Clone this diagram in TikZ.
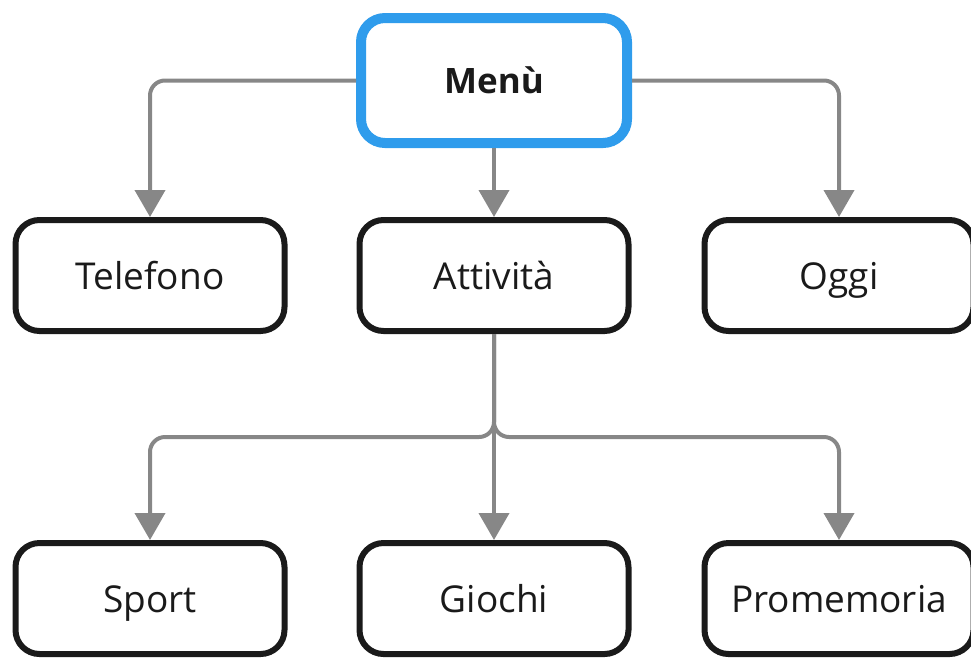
\documentclass[tikz,border=0pt]{standalone}
\usepackage{fontspec}
\setmainfont{Open Sans}
\usetikzlibrary{arrows.meta}
\definecolor{menublue}{HTML}{2F9CEC}
\definecolor{linegray}{HTML}{878787}
\definecolor{ink}{HTML}{1A1A1A}

\begin{document}
\begin{tikzpicture}[x=1pt, y=-1pt, >={Triangle[width=30pt, length=27pt]},
    box/.style={draw=ink, line width=6pt, rounded corners=24pt, fill=white,
        minimum width=269pt, minimum height=111pt, text=ink,
        text height=27pt, text depth=0pt,
        font=\fontsize{37}{44}\selectfont},
    link/.style={->, draw=linegray, line width=4pt, rounded corners=15pt}]
    \useasboundingbox (0,0) rectangle (971,657);
    \node[box, draw=menublue, line width=10pt, minimum width=266pt,
        minimum height=125pt, text height=25pt,
        font=\fontsize{35}{42}\selectfont\bfseries] (menu) at (494, 80.5) {Menù};
    \node[box] (tel) at (150, 275.5) {Telefono};
    \node[box] (att) at (494, 275.5) {Attività};
    \node[box] (oggi) at (839, 275.5) {Oggi};
    \node[box] (sport) at (150, 598.5) {Sport};
    \node[box] (giochi) at (494, 598.5) {Giochi};
    \node[box] (prom) at (839, 598.5) {Promemoria};
    \coordinate (split) at (494, 437);
    \draw[link] (menu.west) -| (tel.north);
    \draw[link] (menu.east) -| (oggi.north);
    \draw[link] (menu.south) -- (att.north);
    \draw[link] (att.south) -- (giochi.north);
    \draw[link] (att.south) -- (split) -| (sport.north);
    \draw[link] (att.south) -- (split) -| (prom.north);
\end{tikzpicture}
\end{document}
